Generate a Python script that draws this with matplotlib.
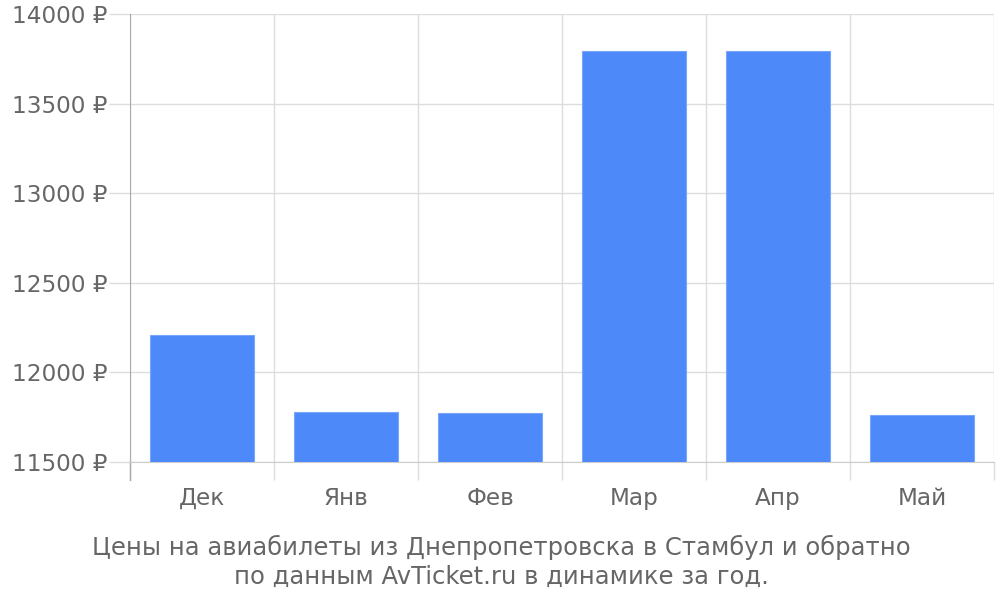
import matplotlib
matplotlib.use('Agg')
import matplotlib.pyplot as plt
import matplotlib.transforms as mtransforms
import numpy as np

months = ['Дек', 'Янв', 'Фев', 'Мар', 'Апр', 'Май']
prices = [12208, 11775, 11772, 13797, 13797, 11759]
y_ticks = [11500, 12000, 12500, 13000, 13500, 14000]
caption = 'Цены на авиабилеты из Днепропетровска в Стамбул и обратно\nпо данным AvTicket.ru в динамике за год.'

text_color = '#666666'
bar_color = '#4d89f9'
grid_color = '#dddddd'

plt.rcParams['font.family'] = ['DejaVu Sans']

fig = plt.figure(figsize=(10, 6), dpi=100)
ax = fig.add_axes([0.13, 0.2305, 0.864, 0.7457])

x = np.arange(len(months))
ax.bar(x, prices, width=0.72, color=bar_color, edgecolor='#79a6fb', linewidth=0.8, zorder=3)

ax.set_xlim(-0.5, len(months) - 0.5)
ax.set_ylim(11500, 14000)

# y axis
ax.set_yticks(y_ticks)
ax.set_yticklabels(['%d ₽' % v for v in y_ticks])
ax.tick_params(axis='y', length=15, width=1, color=grid_color, pad=1,
               labelsize=16.7, labelcolor=text_color)
ax.grid(axis='y', color=grid_color, linewidth=1, zorder=0)

# x axis: boundaries as major ticks, labels at centers
ax.set_xticks(np.arange(-0.5, len(months) + 0.5, 1.0))
ax.set_xticklabels([])
ax.set_xticks(x, minor=True)
ax.set_xticklabels(months, minor=True)
ax.tick_params(axis='x', which='major', length=13, width=1, color=grid_color)
ax.tick_params(axis='x', which='minor', length=0, pad=18,
               labelsize=16.7, labelcolor=text_color)
ax.grid(axis='x', which='major', color=grid_color, linewidth=1, zorder=0)

for s in ['top', 'right']:
    ax.spines[s].set_visible(False)
ax.spines['bottom'].set_color('#cccccc')
ax.spines['left'].set_color('#aaaaaa')

# left axis line continues below the plot
trans = mtransforms.blended_transform_factory(ax.transAxes, ax.transAxes)
ax.plot([0, 0], [-0.041, 0], color='#aaaaaa', linewidth=1, transform=trans, clip_on=False)

fig.text(0.501, 0.018, caption, ha='center', va='bottom', fontsize=17.5,
         color=text_color, linespacing=1.25)

fig.savefig('out.png', dpi=100)
